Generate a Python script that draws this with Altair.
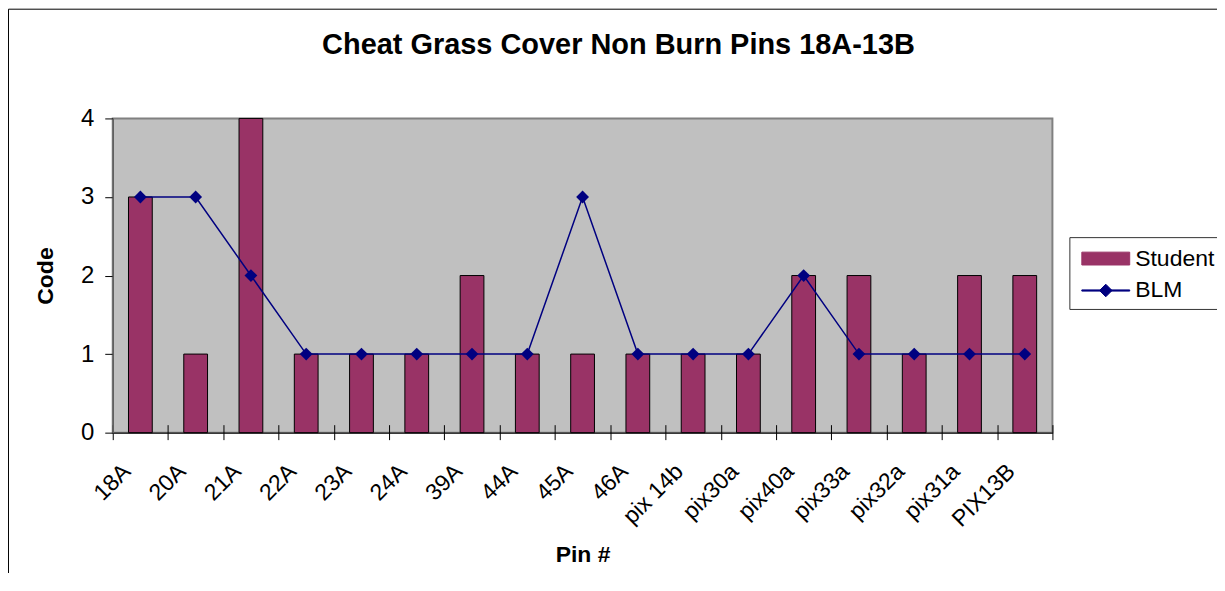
import altair as alt
import pandas as pd

pins = ["18A", "20A", "21A", "22A", "23A", "24A", "39A", "44A", "45A", "46A",
        "pix 14b", "pix30a", "pix40a", "pix33a", "pix32a", "pix31a", "PIX13B"]
student = [3, 1, 4, 1, 1, 1, 2, 1, 1, 1, 1, 1, 2, 2, 1, 2, 2]
blm = [3, 3, 2, 1, 1, 1, 1, 1, 3, 1, 1, 1, 2, 1, 1, 1, 1]
series_names = ["Student", "BLM"]
series_colors = ["#993366", "#000080"]
y_ticks = [0, 1, 2, 3, 4]

df_student = pd.DataFrame({"pin": pins, "code": student, "series": "Student"})
df_blm = pd.DataFrame({"pin": pins, "code": blm, "series": "BLM"})

FONT = "Liberation Sans"
NBSP = "\u00a0"

x_scale = alt.Scale(paddingInner=0, paddingOuter=0)
x_main = alt.X(
    "pin:N", sort=pins, scale=x_scale,
    axis=alt.Axis(
        orient="bottom",
        title="Pin #", titleFontSize=23, titleFontWeight="bold", titleFont=FONT,
        titleY=129, titleBaseline="alphabetic", titleColor="black",
        labelAngle=-45, labelAlign="right", labelBaseline="middle",
        labelFontSize=23, labelFont=FONT, labelColor="black",
        labelPadding=28, labelOffset=-14,
        tickBand="extent", tickSize=7, tickColor="black", tickWidth=1,
        domainColor="black", domainWidth=1, grid=False,
    ),
)
x_inner = alt.X(
    "pin:N", sort=pins, scale=x_scale,
    axis=alt.Axis(
        orient="bottom", title=None, labels=False, domain=False, grid=False,
        tickBand="extent", tickSize=8, tickColor="black", tickWidth=1, offset=-8,
    ),
)
x_none = alt.X("pin:N", sort=pins, scale=x_scale, axis=None)

y_enc = alt.Y(
    "code:Q", scale=alt.Scale(domain=[0, 4], nice=False),
    axis=alt.Axis(
        values=y_ticks, title="Code", titleFontSize=23, titleFontWeight="bold",
        titleFont=FONT, titleX=-60, titleBaseline="alphabetic", titleColor="black",
        labelFontSize=24, labelFont=FONT, labelColor="black", labelPadding=11,
        tickSize=8, tickColor="black", tickWidth=1,
        domainColor="#606060", domainWidth=1.5, grid=False,
    ),
)

color_scale = alt.Scale(domain=series_names, range=series_colors)
legend = alt.Legend(
    title=None, orient="none", legendX=959, legendY=119,
    padding=6, strokeColor="#333333", fillColor="white",
    labelFont=FONT, labelFontSize=23, labelColor="black", labelOffset=29,
    labelExpr="datum.label + '" + NBSP + "'",
    rowPadding=4, symbolSize=900,
    symbolType=alt.ExprRef(
        "datum.value === 'Student' ? 'M-0.6,-0.43H2.6V0.43H-0.6Z' : "
        "'M-0.6,-0.04H2.6V0.04H-0.6Z M1,-0.42L1.42,0L1,0.42L0.58,0Z'"
    ),
    symbolStrokeColor=alt.ExprRef("datum.value === 'Student' ? 'black' : '#000080'"),
    symbolFillColor=alt.ExprRef("datum.value === 'Student' ? '#993366' : '#000080'"),
    symbolStrokeWidth=1,
)
color_enc = alt.Color("series:N", scale=color_scale, legend=legend)

bars = alt.Chart(df_student).mark_bar(
    width={"band": 0.43}, stroke="black", strokeWidth=1, opacity=1
).encode(x=x_main, y=y_enc, color=color_enc)

line = alt.Chart(df_blm).mark_line(strokeWidth=1.5).encode(
    x=x_inner, y=y_enc, color=color_enc
)

points = alt.Chart(df_blm).mark_point(
    shape="diamond", filled=True, size=165, color="#000080", opacity=1
).encode(x=x_none, y=y_enc)

frame = alt.Chart(alt.Data(values=[{}])).mark_rect(
    fill="transparent", stroke="black", strokeWidth=1
).encode(
    x=alt.value(-104.5), x2=alt.value(1300), y=alt.value(-109.5), y2=alt.value(700)
)

chart = alt.layer(frame, bars, line, points).resolve_axis(x="independent").properties(
    width=942, height=315,
    title=alt.Title(
        "Cheat Grass Cover Non Burn Pins 18A-13B", fontSize=29, fontWeight="bold",
        font=FONT, color="black", anchor="middle", frame="group", dx=36,
        offset=-74, baseline="alphabetic",
    ),
    autosize=alt.AutoSizeParams(type="none"),
    padding={"left": 105, "top": 110, "right": 165, "bottom": 140},
).configure(font=FONT).configure_view(
    fill="#C0C0C0", stroke="#808080", strokeWidth=2
)

chart.save("out.html", embed_options={"renderer": "svg", "actions": False})
